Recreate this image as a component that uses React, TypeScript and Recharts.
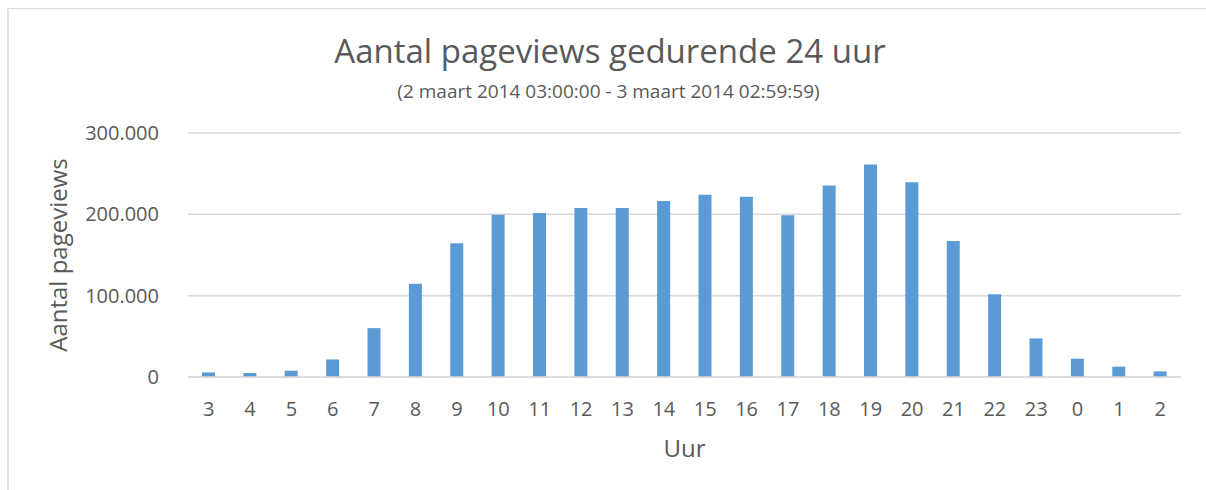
import React from 'react';
import { BarChart, Bar, XAxis, YAxis, CartesianGrid } from 'recharts';

const hours = ['3', '4', '5', '6', '7', '8', '9', '10', '11', '12', '13', '14', '15', '16', '17', '18', '19', '20', '21', '22', '23', '0', '1', '2'];
const pageviews = [5600, 4900, 7700, 21600, 60100, 114800, 164400, 199500, 201600, 207700, 207900, 216300, 224000, 221600, 198800, 235600, 261300, 239600, 167200, 101800, 47400, 22500, 12700, 6900];
const yTicks = [0, 100000, 200000, 300000];
const titleText = 'Aantal pageviews gedurende 24 uur';
const subtitleText = '(2 maart 2014 03:00:00 - 3 maart 2014 02:59:59)';
const yLabel = 'Aantal pageviews';
const xLabel = 'Uur';

const data = hours.map((h, i) => ({ hour: h, views: pageviews[i] }));

const FONT = '"Open Sans", sans-serif';
const TEXT = '#595959';
const GRID = '#d9d9d9';
const BAR = '#5b9bd5';

const fmt = (v: number) => String(v).replace(/\B(?=(\d{3})+(?!\d))/g, '.');

export default function App() {
  return (
    <div style={{ position: 'absolute', left: 0, top: 0, width: 1206, height: 490, background: '#fff', overflow: 'hidden', fontFamily: FONT }}>
      <div style={{ position: 'absolute', left: 7, top: 8, width: 1300, height: 600, borderTop: `1px solid ${GRID}`, borderLeft: `2px solid #e2e2e2` }} />
      <div style={{ position: 'absolute', left: 0, width: 1220, top: 31, textAlign: 'center', fontSize: 33, lineHeight: '40px', color: TEXT, whiteSpace: 'nowrap' }}>{titleText}</div>
      <div style={{ position: 'absolute', left: 0, width: 1217, top: 79, textAlign: 'center', fontSize: 19, lineHeight: '25px', color: TEXT, whiteSpace: 'nowrap' }}>{subtitleText}</div>
      <div style={{ position: 'absolute', left: 0, top: 0 }}>
        <BarChart width={1206} height={490} data={data} margin={{ top: 133, right: 25, bottom: 0, left: 0 }}>
          <CartesianGrid vertical={false} stroke={GRID} strokeWidth={1.5} />
          <XAxis
            dataKey="hour"
            height={113}
            axisLine={{ stroke: GRID, strokeWidth: 1.5 }}
            tickLine={false}
            tickMargin={19}
            tick={{ fill: TEXT, fontSize: 20, fontFamily: FONT }}
            interval={0}
            label={{ value: xLabel, position: 'insideBottom', offset: 33, fill: TEXT, fontSize: 24, fontFamily: FONT }}
          />
          <YAxis
            width={188}
            domain={[0, 300000]}
            ticks={yTicks}
            tickFormatter={fmt}
            axisLine={false}
            tickLine={false}
            tickMargin={23}
            tick={{ fill: TEXT, fontSize: 20, fontFamily: FONT }}
            label={{ value: yLabel, angle: -90, position: 'insideLeft', offset: 58, fill: TEXT, fontSize: 24, fontFamily: FONT, style: { textAnchor: 'middle' } }}
          />
          <Bar dataKey="views" fill={BAR} barSize={13} isAnimationActive={false} />
        </BarChart>
      </div>
    </div>
  );
}
